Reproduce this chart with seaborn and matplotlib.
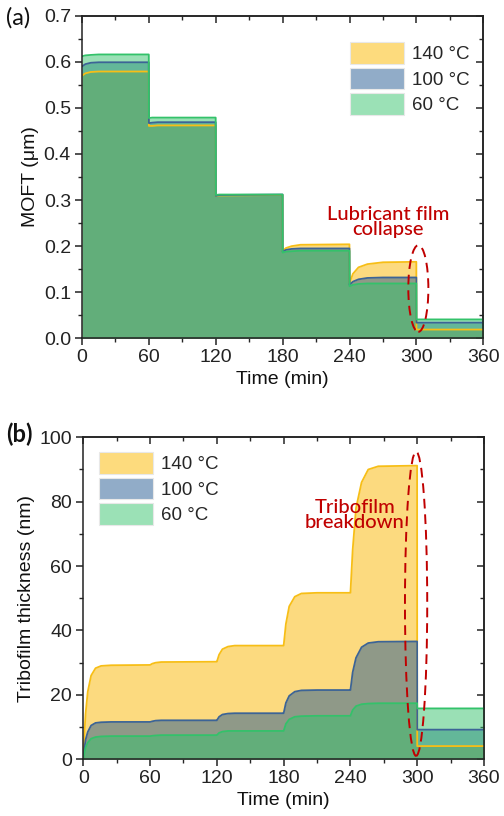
import numpy as np
import pandas as pd
import matplotlib
matplotlib.use("Agg")
import matplotlib.pyplot as plt
import seaborn as sns
from matplotlib.patches import Patch, Ellipse
from matplotlib.ticker import MultipleLocator

# ==============================
# DATA
# ==============================
temps = ["140 °C", "100 °C", "60 °C"]

# (a) MOFT, um
time_a = [0, 3, 8, 15, 59.9, 60, 63, 68, 119.9, 120, 123, 179.9,
          180, 183, 188, 196, 239.9, 240, 243, 248, 256, 270, 299.9, 300, 360]
moft_140 = [0.570, 0.575, 0.578, 0.579, 0.579, 0.461, 0.461, 0.462, 0.462,
            0.309, 0.310, 0.311, 0.190, 0.196, 0.200, 0.203, 0.204,
            0.120, 0.140, 0.154, 0.161, 0.165, 0.166, 0.019, 0.019]
moft_100 = [0.590, 0.595, 0.598, 0.599, 0.599, 0.467, 0.468, 0.469, 0.469,
            0.309, 0.311, 0.312, 0.188, 0.192, 0.194, 0.195, 0.195,
            0.116, 0.123, 0.128, 0.131, 0.132, 0.132, 0.034, 0.034]
moft_60 = [0.612, 0.614, 0.615, 0.616, 0.616, 0.478, 0.479, 0.479, 0.479,
           0.311, 0.312, 0.312, 0.186, 0.188, 0.189, 0.190, 0.190,
           0.113, 0.116, 0.118, 0.119, 0.119, 0.119, 0.041, 0.041]

# (b) tribofilm thickness, nm
time_b = [0, 1, 2, 4, 7, 11, 16, 25, 59.9, 60, 62, 65, 70, 119.9,
          120, 122, 125, 130, 136, 179.9, 180, 182, 185, 190, 196, 210, 239.9,
          240, 242, 245, 250, 256, 265, 299.9, 300, 360]
trib_140 = [0, 8, 14, 21, 26, 28.3, 29.0, 29.2, 29.3, 29.3, 29.7, 30.0, 30.2, 30.3,
            30.3, 32.5, 34.2, 35.0, 35.3, 35.3, 35.3, 42, 47.5, 50.5, 51.5, 51.7, 51.7,
            51.7, 65, 78, 86, 90, 91, 91.2, 4.1, 4.1]
trib_100 = [0, 3.5, 6, 8.5, 10.5, 11.3, 11.5, 11.6, 11.6, 11.6, 11.8, 12.0, 12.1, 12.1,
            12.1, 13.2, 13.9, 14.2, 14.3, 14.3, 14.3, 17.5, 19.7, 21.0, 21.4, 21.5, 21.5,
            21.5, 27, 31.5, 34.8, 36.1, 36.5, 36.6, 9.2, 9.2]
trib_60 = [0, 2, 3.6, 5.2, 6.4, 6.9, 7.1, 7.2, 7.2, 7.2, 7.3, 7.4, 7.5, 7.5,
           7.5, 8.2, 8.6, 8.8, 8.8, 8.8, 8.8, 11, 12.4, 13.2, 13.4, 13.5, 13.5,
           13.5, 15.3, 16.5, 17.1, 17.3, 17.4, 17.4, 15.8, 15.8]

# ==============================
# STYLE
# ==============================
fill_colors = ["#FBB700", "#235991", "#37C36D"]
line_colors = ["#F7BE16", "#3C6496", "#33C26A"]
legend_colors = ["#FDDB7D", "#91ACC8", "#9BE1B6"]
red = "#C00000"

sns.set_theme(style="white")
plt.rcParams["font.family"] = ["Liberation Sans", "DejaVu Sans"]
plt.rcParams["axes.edgecolor"] = "#222222"
plt.rcParams["axes.linewidth"] = 1.1


def long_df(t, series):
    rows = []
    for name, vals in zip(temps, series):
        rows.append(pd.DataFrame({"time": t, "value": vals, "temp": name}))
    return pd.concat(rows, ignore_index=True)


def draw_panel(ax, t, series, ylim, ymajor, yminor, ylabel):
    df = long_df(t, series)
    for name, fc in zip(temps, fill_colors):
        sub = df[df["temp"] == name]
        ax.fill_between(sub["time"], 0, sub["value"], color=fc, alpha=0.5, lw=0)
    sns.lineplot(data=df, x="time", y="value", hue="temp", palette=line_colors,
                 sort=False, estimator=None, linewidth=1.3, legend=False, ax=ax)
    ax.set_xlim(0, 360)
    ax.set_ylim(*ylim)
    ax.xaxis.set_major_locator(MultipleLocator(60))
    ax.xaxis.set_minor_locator(MultipleLocator(30))
    ax.yaxis.set_major_locator(MultipleLocator(ymajor))
    ax.yaxis.set_minor_locator(MultipleLocator(yminor))
    ax.tick_params(which="major", direction="out", length=5, width=1.1,
                   labelsize=14, colors="#222222", pad=3)
    ax.tick_params(which="minor", direction="out", length=3, width=1.0)
    ax.tick_params(axis="both", which="both", bottom=True, left=True)
    ax.set_xlabel("Time (min)", fontsize=14, color="#111111", labelpad=3)
    ax.set_ylabel(ylabel, fontsize=14, color="#111111", labelpad=3)
    # inward ticks on top and right
    top = ax.secondary_xaxis("top")
    top.xaxis.set_major_locator(MultipleLocator(60))
    top.xaxis.set_minor_locator(MultipleLocator(30))
    top.tick_params(which="major", direction="in", length=5, width=1.1, labeltop=False)
    top.tick_params(which="minor", direction="in", length=3, width=1.0)
    right = ax.secondary_yaxis("right")
    right.yaxis.set_major_locator(MultipleLocator(ymajor))
    right.yaxis.set_minor_locator(MultipleLocator(yminor))
    right.tick_params(which="major", direction="in", length=5, width=1.1, labelright=False)
    right.tick_params(which="minor", direction="in", length=3, width=1.0)


def add_legend(ax, anchor):
    handles = [Patch(facecolor=c, edgecolor="#E8E8E8", linewidth=0.8) for c in legend_colors]
    ax.legend(handles, temps, loc="upper left", bbox_to_anchor=anchor, frameon=False,
              fontsize=13.5, handlelength=2.9, handleheight=1.4, labelspacing=0.2,
              handletextpad=0.4, borderpad=0, borderaxespad=0)


fig = plt.figure(figsize=(5.04, 8.16), dpi=100)

# ==============================
# PANEL (a)
# ==============================
ax1 = fig.add_axes([0.1627, 0.5854, 0.7963, 0.3953])
draw_panel(ax1, time_a, [moft_140, moft_100, moft_60], (0, 0.7), 0.1, 0.05, "MOFT (μm)")
ax1.yaxis.set_major_formatter(matplotlib.ticker.FormatStrFormatter("%.1f"))
add_legend(ax1, (0.668, 0.918))
ax1.add_patch(Ellipse((301.7, 0.108), 18, 0.188, fill=False, edgecolor=red,
                      linestyle=(0, (5, 3)), linewidth=1.4, zorder=5))
ax1.text(274.5, 0.252, "Lubricant film\ncollapse", color=red, ha="center", va="center",
         fontsize=14.5, family=["Lato", "DejaVu Sans"], fontweight="medium",
         linespacing=0.9)
fig.text(0.012, 0.978, "(a)", fontsize=17, family=["Lato", "DejaVu Sans"],
         color="#111111", ha="left", va="center")

# ==============================
# PANEL (b)
# ==============================
ax2 = fig.add_axes([0.1653, 0.0695, 0.795, 0.3946])
draw_panel(ax2, time_b, [trib_140, trib_100, trib_60], (0, 100), 20, 10,
           "Tribofilm thickness (nm)")
add_legend(ax2, (0.039, 0.954))
ax2.add_patch(Ellipse((299, 48.3), 20, 94.5, fill=False, edgecolor=red,
                      linestyle=(0, (5, 3)), linewidth=1.4, zorder=5))
ax2.text(244, 75.9, "Tribofilm\nbreakdown", color=red, ha="center", va="center",
         fontsize=14.5, family=["Lato", "DejaVu Sans"], fontweight="medium",
         linespacing=0.9)
fig.text(0.012, 0.468, "(b)", fontsize=17, family=["Lato", "DejaVu Sans"],
         fontweight="bold", color="#111111", ha="left", va="center")

fig.savefig("out.png", dpi=100)
